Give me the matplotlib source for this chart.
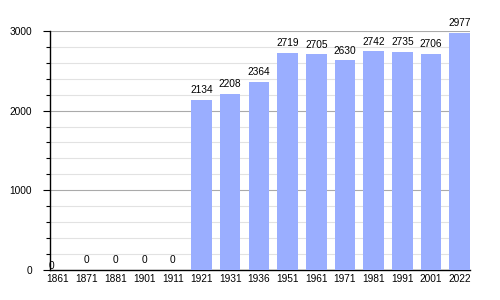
#!/usr/bin/env python3
# plot.py - population bar chart by census year

import matplotlib
matplotlib.use("Agg")
import matplotlib.pyplot as plt
from matplotlib.ticker import MultipleLocator

years = ["1861", "1871", "1881", "1901", "1911", "1921", "1931", "1936",
         "1951", "1961", "1971", "1981", "1991", "2001", "2022"]
population = [0, 0, 0, 0, 0, 2134, 2208, 2364, 2719, 2705, 2630, 2742,
              2735, 2706, 2977]

plt.rcParams['font.family'] = ['Liberation Sans', 'DejaVu Sans']
FS = 7.3

fig = plt.figure(figsize=(5, 3), dpi=100)
ax = fig.add_axes([0.10, 0.10, 0.84, 0.797])

x = range(len(years))
ax.bar(x, population, width=0.72, color='#9aaeff', zorder=3)

# value labels above bars
for i, v in enumerate(population):
    if i == 0:
        ax.annotate(str(v), (i, v), xytext=(-7, -1), textcoords='offset points',
                    ha='left', va='bottom', fontsize=FS, zorder=4)
    else:
        ax.annotate(str(v), (i, v), xytext=(0, 3.5), textcoords='offset points',
                    ha='center', va='bottom', fontsize=FS, zorder=4)

ax.set_xlim(-0.28, 14.36)
ax.set_ylim(0, 3000)
ax.set_xticks(list(x))
ax.set_xticklabels(years, fontsize=FS)
ax.tick_params(axis='x', length=0, pad=3)

ax.yaxis.set_major_locator(MultipleLocator(1000))
ax.yaxis.set_minor_locator(MultipleLocator(200))
ax.tick_params(axis='y', which='major', length=5, width=0.8, pad=8, labelsize=FS)
ax.tick_params(axis='y', which='minor', length=3, width=0.8)
ax.grid(axis='y', which='major', color='#aaaaaa', linewidth=0.8, zorder=1)
ax.grid(axis='y', which='minor', color='#e2e2e2', linewidth=0.8, zorder=1)

for s in ('top', 'right'):
    ax.spines[s].set_visible(False)
ax.spines['left'].set_linewidth(1.0)
ax.spines['bottom'].set_linewidth(1.0)

fig.savefig("out.png", dpi=100)
